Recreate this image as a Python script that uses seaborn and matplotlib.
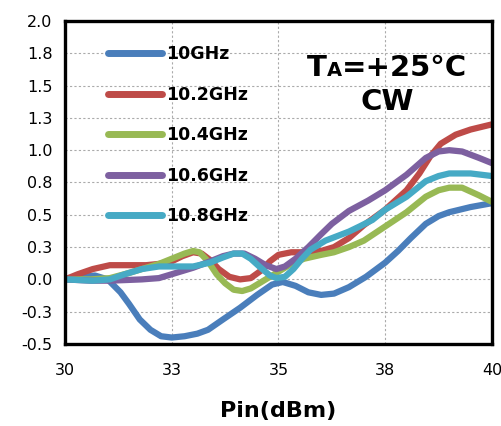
import matplotlib
matplotlib.use("Agg")
import matplotlib.pyplot as plt
import seaborn as sns
import pandas as pd
from matplotlib.offsetbox import TextArea, HPacker, AnnotationBbox

# ---- data ----
series_names = ["10GHz", "10.2GHz", "10.4GHz", "10.6GHz", "10.8GHz"]

x_10 = [30, 30.4, 30.7, 31.0, 31.3, 31.5, 31.75, 32.0, 32.25, 32.5, 32.8, 33.1, 33.35, 33.7,
        34.1, 34.5, 34.85, 35.1, 35.4, 35.7, 36.0, 36.3, 36.65, 37.05, 37.5, 37.8, 38.1,
        38.45, 38.75, 39.0, 39.5, 40]
y_10 = [0, 0.02, 0.03, 0.0, -0.10, -0.19, -0.31, -0.39, -0.44, -0.45, -0.44, -0.42, -0.39, -0.31,
        -0.22, -0.12, -0.04, -0.02, -0.05, -0.10, -0.12, -0.11, -0.06, 0.02, 0.13, 0.22, 0.32,
        0.43, 0.49, 0.52, 0.56, 0.59]

x_102 = [30, 30.3, 30.65, 31.05, 31.45, 31.9, 32.2, 32.5, 32.75, 33.0, 33.2, 33.4, 33.6, 33.85,
         34.1, 34.35, 34.6, 34.8, 35.0, 35.3, 35.7, 36.0, 36.3, 36.65, 37.0, 37.5, 38.0, 38.3,
         38.55, 38.8, 39.15, 39.5, 40]
y_102 = [0, 0.04, 0.08, 0.11, 0.11, 0.11, 0.12, 0.14, 0.18, 0.21, 0.20, 0.15, 0.08, 0.02,
         0.0, 0.01, 0.07, 0.14, 0.19, 0.21, 0.21, 0.22, 0.25, 0.32, 0.42, 0.54, 0.69, 0.82,
         0.95, 1.05, 1.12, 1.16, 1.20]

x_104 = [30, 30.6, 31.05, 31.5, 31.8, 32.2, 32.5, 32.8, 33.0, 33.15, 33.35, 33.55, 33.75, 33.95,
         34.15, 34.35, 34.6, 35.0, 35.3, 35.6, 36.0, 36.3, 36.65, 37.0, 37.5, 38.0, 38.45,
         38.75, 39.0, 39.3, 39.7, 40]
y_104 = [0, 0.0, 0.01, 0.05, 0.08, 0.12, 0.16, 0.20, 0.22, 0.21, 0.14, 0.04, -0.03, -0.08,
         -0.09, -0.07, -0.02, 0.06, 0.12, 0.16, 0.19, 0.21, 0.25, 0.30, 0.41, 0.52, 0.64,
         0.69, 0.71, 0.71, 0.65, 0.60]

x_106 = [30, 30.6, 31.05, 31.8, 32.2, 32.5, 33.0, 33.4, 33.7, 33.95, 34.2, 34.45, 34.7, 34.95,
         35.15, 35.4, 35.7, 36.0, 36.25, 36.65, 37.1, 37.5, 38.0, 38.45, 38.75, 39.0, 39.3,
         39.7, 40]
y_106 = [0, -0.01, -0.01, 0.0, 0.01, 0.04, 0.09, 0.14, 0.18, 0.20, 0.20, 0.16, 0.11, 0.08,
         0.10, 0.16, 0.25, 0.35, 0.43, 0.53, 0.61, 0.69, 0.81, 0.94, 0.99, 1.00, 0.99,
         0.94, 0.90]

x_108 = [30, 30.65, 31.05, 31.4, 31.8, 32.2, 32.5, 33.0, 33.4, 33.7, 33.95, 34.15, 34.35, 34.55,
         34.8, 34.95, 35.15, 35.35, 35.55, 35.75, 36.1, 36.65, 36.9, 37.2, 37.5, 38.0, 38.45,
         38.75, 39.0, 39.5, 40]
y_108 = [0, -0.01, 0.0, 0.04, 0.08, 0.10, 0.10, 0.10, 0.13, 0.17, 0.20, 0.20, 0.16, 0.10,
         0.03, 0.01, 0.02, 0.08, 0.16, 0.23, 0.30, 0.37, 0.41, 0.46, 0.54, 0.64, 0.76,
         0.80, 0.82, 0.82, 0.80]

x_ticks = [30, 32.5, 35, 37.5, 40]
x_tick_labels = ["30", "33", "35", "38", "40"]
y_ticks = [-0.5, -0.25, 0, 0.25, 0.5, 0.75, 1.0, 1.25, 1.5, 1.75, 2.0]
y_tick_labels = ["-0.5", "-0.3", "0.0", "0.3", "0.5", "0.8", "1.0", "1.3", "1.5", "1.8", "2.0"]

colors = ["#4A7EBB", "#BE4B48", "#98B954", "#7D60A0", "#46AAC5"]

# ---- build long table ----
frames = []
for name, xs, ys in zip(series_names,
                        [x_10, x_102, x_104, x_106, x_108],
                        [y_10, y_102, y_104, y_106, y_108]):
    frames.append(pd.DataFrame({"Pin": xs, "val": ys, "freq": name}))
df = pd.concat(frames, ignore_index=True)

sns.set_style("white")
plt.rcParams["font.family"] = ["DejaVu Sans"]
plt.rcParams["text.color"] = "black"
plt.rcParams["axes.labelcolor"] = "black"

fig = plt.figure(figsize=(5.02, 4.26), dpi=100)
ax = fig.add_axes([0.1295, 0.1925, 0.8505, 0.7582])

sns.lineplot(data=df, x="Pin", y="val", hue="freq", hue_order=series_names,
             palette=colors, linewidth=4.5, ax=ax, legend=True,
             solid_capstyle="round", solid_joinstyle="round")

ax.set_xlim(30, 40)
ax.set_ylim(-0.5, 2.0)
ax.set_xticks(x_ticks)
ax.set_xticklabels(x_tick_labels)
ax.set_yticks(y_ticks)
ax.set_yticklabels(y_tick_labels)
ax.tick_params(axis="both", labelsize=11.5, length=5, width=1, direction="out",
               color="#888888", labelcolor="black", pad=4)
ax.tick_params(axis="x", pad=9)
ax.grid(True, color="#aaaaaa", linestyle=(0, (2, 2)), linewidth=0.8)
ax.set_axisbelow(True)
for s in ax.spines.values():
    s.set_color("black")
    s.set_linewidth(2.4)
    s.set_visible(True)

ax.set_xlabel("Pin(dBm)", fontsize=16, fontweight="bold", labelpad=16, color="black")
ax.set_ylabel("")

handles, labels = ax.get_legend_handles_labels()
for h in handles:
    h.set_linewidth(5)
    h.set_solid_capstyle("round")
leg = ax.legend(handles, labels, loc="upper left", bbox_to_anchor=(0.085, 0.947),
                frameon=False, handlelength=3.1, handletextpad=0.25,
                labelspacing=1.3, prop={"weight": "bold", "size": 12.5},
                borderaxespad=0)
for t in leg.get_texts():
    t.set_color("black")

# annotation TA=+25°C / CW
t1 = TextArea("T", textprops=dict(fontsize=21, fontweight="bold", color="black"))
t2 = TextArea("A", textprops=dict(fontsize=14, fontweight="bold", color="black"))
t3 = TextArea("=+25°C", textprops=dict(fontsize=21, fontweight="bold", color="black"))
box = HPacker(children=[t1, t2, t3], align="baseline", pad=0, sep=0)
ab = AnnotationBbox(box, (0.755, 0.855), xycoords="axes fraction", frameon=False,
                    box_alignment=(0.5, 0.5))
ax.add_artist(ab)
ax.text(0.755, 0.75, "CW", transform=ax.transAxes, fontsize=21, fontweight="bold",
        ha="center", va="center", color="black")

fig.savefig("out.png", dpi=100)
